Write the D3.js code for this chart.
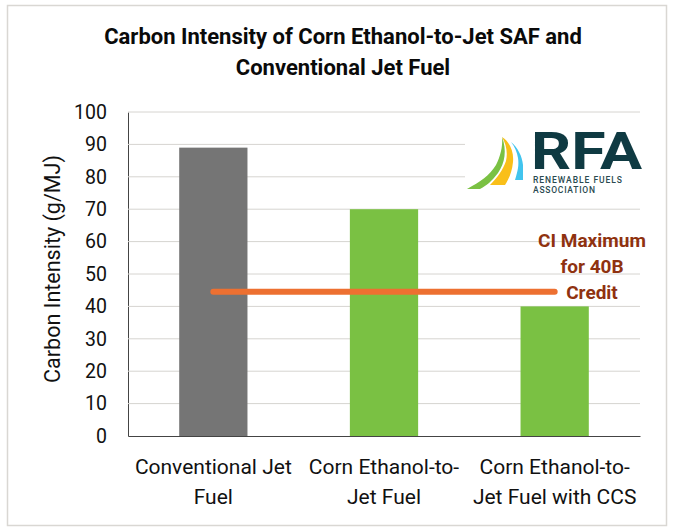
<!DOCTYPE html>
<html><head><meta charset="utf-8">
<script src="https://cdn.jsdelivr.net/npm/d3@7/dist/d3.min.js"></script>
<style>html,body{margin:0;padding:0;background:#fff}svg{display:block}text{font-family:Roboto,"Noto Sans",sans-serif}</style>
</head><body><svg id="c" width="680" height="531"></svg>
<script>
const categories = ["Conventional Jet Fuel","Corn Ethanol-to-Jet Fuel","Corn Ethanol-to-Jet Fuel with CCS"];
const categoryLines = [["Conventional Jet","Fuel"],["Corn Ethanol-to-","Jet Fuel"],["Corn Ethanol-to-","Jet Fuel with CCS"]];
const values = [89,70,40];
const barColors = ["#757575","#7ac143","#7ac143"];
const ciMaximum = [44.5,44.5,44.5];
const yTicks = [0,10,20,30,40,50,60,70,80,90,100];
const titleLines = ["Carbon Intensity of Corn Ethanol-to-Jet SAF and","Conventional Jet Fuel"];
const yLabel = "Carbon Intensity (g/MJ)";
const annotationLines = ["CI Maximum","for 40B","Credit"];

const svg = d3.select("#c");
svg.append("rect").attr("x",7.5).attr("y",5.5).attr("width",659).attr("height",520)
  .attr("fill","#fff").attr("stroke","#d9d7d3").attr("stroke-width",1.5);

const x = d3.scaleBand().domain(categories).range([128,640]).paddingInner(0.6).paddingOuter(0.3);
const y = d3.scaleLinear().domain([0,100]).range([436,112]);

const yAxis = d3.axisLeft(y).tickValues(yTicks).tickSize(0).tickPadding(21);
const gy = svg.append("g").attr("transform","translate(128,0)").call(yAxis);
gy.select(".domain").attr("stroke","#444").attr("stroke-width",1);
gy.selectAll("text").attr("font-size",19.5).attr("fill","#111");

svg.append("g").selectAll("line").data(yTicks.filter(d=>d>0)).join("line")
  .attr("x1",128).attr("x2",640).attr("y1",d=>y(d)).attr("y2",d=>y(d))
  .attr("stroke","#d6d4d0").attr("stroke-width",1);

svg.append("g").selectAll("rect").data(values).join("rect")
  .attr("x",(d,i)=>x(categories[i])).attr("width",x.bandwidth())
  .attr("y",d=>y(d)).attr("height",d=>y(0)-y(d))
  .attr("fill",(d,i)=>barColors[i]);

const xAxis = d3.axisBottom(x).tickSize(0).tickFormat("");
const gx = svg.append("g").attr("transform","translate(0,436)").call(xAxis);
gx.select(".domain").attr("stroke","#444").attr("stroke-width",1);

const line = d3.line().x((d,i)=>x(categories[i])+x.bandwidth()/2).y(d=>y(d));
svg.append("path").datum(ciMaximum).attr("d",line).attr("fill","none")
  .attr("stroke","#ed7031").attr("stroke-width",6).attr("stroke-linecap","round");

// logo, on a white patch that hides gridlines behind it
const logo = svg.append("g");
logo.append("rect").attr("x",465).attr("y",113.5).attr("width",176).attr("height",94).attr("fill","#fff");
logo.append("path").attr("d","M502 137C507 150 505 163 498 173C492 181 486 186 480 189L467 189C480 182 490 175 496 165C500 157 503 147 502 137Z").attr("fill","#7ac143");
logo.append("path").attr("d","M502 137C510 142 514 152 513 162C512 172 509 179 505 185L490 185C497 178 503 170 506 161C508 152 506 144 502 137Z").attr("fill","#f9bf19");
logo.append("path").attr("d","M511 142C518 148 522 156 523 165L523 180L515 180C518 170 519 165 518 158C517 152 515 147 511 142Z").attr("fill","#41c4ee");
logo.append("text").attr("x",531).attr("y",169).attr("font-size",51).attr("font-weight",700).attr("fill","#0f3a42").attr("textLength",111).attr("lengthAdjust","spacingAndGlyphs").text("RFA");
logo.append("text").attr("x",533).attr("y",183).attr("font-size",8.5).attr("font-weight",500).attr("fill","#2a4a50").attr("textLength",89).attr("lengthAdjust","spacing").text("RENEWABLE FUELS");
logo.append("text").attr("x",533).attr("y",193).attr("font-size",8.5).attr("font-weight",500).attr("fill","#2a4a50").attr("textLength",62).attr("lengthAdjust","spacing").text("ASSOCIATION");

svg.append("g").selectAll("text").data(titleLines).join("text")
  .attr("x",343).attr("y",(d,i)=>44+i*31).attr("text-anchor","middle")
  .attr("font-size",22).attr("font-weight",700).attr("fill","#0a0a0a").text(d=>d);

svg.append("text").attr("transform","translate(60,269) rotate(-90)").attr("text-anchor","middle")
  .attr("font-size",21.5).attr("fill","#111").text(yLabel);

categoryLines.forEach((ls,i)=>{
  svg.append("g").selectAll("text").data(ls).join("text")
    .attr("x",x(categories[i])+x.bandwidth()/2).attr("y",(d,j)=>474+j*30)
    .attr("text-anchor","middle").attr("font-size",21).attr("fill","#111").text(d=>d);
});

svg.append("g").selectAll("text").data(annotationLines).join("text")
  .attr("x",592).attr("y",(d,i)=>247+i*26).attr("text-anchor","middle")
  .attr("font-size",19).attr("font-weight",700).attr("fill","#8f3210").text(d=>d);
</script></body></html>
